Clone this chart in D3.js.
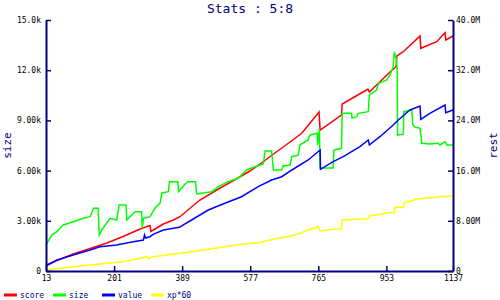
<!DOCTYPE html>
<head>
    <meta charset="utf-8">
    <title>Stats : 5:8</title>
    <style>
        body { margin: 0; background: #fff; }
        text { font-family: "DejaVu Sans Mono", monospace; }
        .axis text { font-size: 8px; fill: #000; }
        .axis path { stroke: #000080; stroke-width: 2; }
        .axis line { stroke: #000080; stroke-width: 1.5; }
        .label { font-size: 11px; fill: #000080; }
        .legend text { font-size: 8px; fill: #000080; }
    </style>
    <script src="https://cdn.jsdelivr.net/npm/d3@7"></script>
</head>
<body>
<script>
    // [iteration, value] pairs
    var scoreData = [[13,359],[88,1016],[135,1345],[181,1673],[226,2062],[273,2510],[300,2719],[303,2361],
        [314,2510],[337,2809],[365,3048],[383,3245],[438,4243],[494,4960],[543,5558],[576,5976],[612,6514],
        [645,7052],[687,7709],[720,8247],[767,9502],[770,8426],[829,9323],[831,9980],[898,10817],[902,10877],
        [906,10697],[963,11893],[980,12209],[982,12849],[999,13088],[1046,14044],[1048,13308],[1092,13703],
        [1115,14241],[1117,13805],[1137,14044]];

    var sizeData = [[13,1554],[29,2151],[43,2349],[52,2570],[61,2749],[88,2946],[116,3149],[135,3245],[144,3747],
        [157,3747],[160,2151],[167,2450],[190,3149],[208,3048],[215,3944],[234,3944],[236,3048],[259,3544],
        [277,3544],[279,2570],[282,3149],[300,3245],[314,3747],[328,4064],[333,4661],[351,4739],[354,5337],
        [377,5337],[379,4739],[397,5199],[406,5337],[426,5337],[429,4602],[471,4739],[489,5038],[516,5337],
        [544,5540],[567,6036],[590,6233],[613,6394],[618,7171],[636,7171],[641,6036],[664,6036],[668,6275],
        [687,6335],[692,6831],[710,6932],[714,7530],[737,7829],[742,8128],[762,8229],[763,7530],[768,8468],
        [770,6155],[806,6155],[808,7231],[829,7333],[831,9424],[857,9424],[858,9143],[871,9221],[875,9424],
        [903,9520],[906,10518],[926,10817],[931,11217],[954,11414],[963,11713],[972,12209],[975,13106],
        [980,12711],[983,12114],[984,8128],[1000,8188],[1001,9520],[1023,9622],[1026,8725],[1032,8606],
        [1046,8528],[1051,7631],[1073,7590],[1096,7631],[1101,7530],[1115,7727],[1120,7530],[1137,7530]];

    var valueData = [[13,299],[43,657],[88,956],[135,1255],[162,1452],[208,1554],[254,1751],[282,1853],
        [285,2151],[288,1972],[300,2050],[309,2193],[337,2450],[365,2552],[381,2611],[415,3048],[461,3645],
        [507,4046],[553,4440],[599,5038],[636,5438],[664,5635],[692,6036],[737,6634],[770,7231],[771,6078],
        [806,6532],[834,6831],[880,7428],[903,7829],[906,7530],[935,8026],[972,8725],[986,9024],[1018,9622],
        [1046,9860],[1048,9066],[1073,9424],[1115,9920],[1117,9460],[1137,9622]];

    var xpData = [[13,60],[52,161],[88,257],[135,359],[181,460],[226,556],[273,759],[291,855],[295,747],
        [309,855],[346,956],[383,1058],[415,1153],[461,1297],[507,1452],[553,1596],[599,1691],[645,1912],
        [692,2110],[719,2289],[737,2450],[765,2647],[770,2390],[806,2492],[829,2510],[831,3048],[903,3125],
        [908,3287],[935,3388],[958,3484],[975,3496],[977,3807],[1000,3807],[1002,4082],[1023,4183],
        [1032,4285],[1073,4380],[1115,4464],[1137,4482]];

    var xTicks = [13, 201, 389, 577, 765, 953, 1137];
    var leftTicks = [0, 3000, 6000, 9000, 12000, 15000];
    var leftLabels = ["0", "3.00k", "6.00k", "9.00k", "12.0k", "15.0k"];
    var rightTicks = [0, 8e6, 16e6, 24e6, 32e6, 40e6];
    var rightLabels = ["0", "8.00M", "16.0M", "24.0M", "32.0M", "40.0M"];

    var seriesNames = ["score", "size", "value", "xp*60"];
    var seriesColors = ["#ff0000", "#00ff00", "#0000ff", "#ffff00"];
    var seriesData = [scoreData, sizeData, valueData, xpData];

    var margin = { top: 20, right: 47, bottom: 29, left: 46 },
        width = 500 - margin.left - margin.right,
        height = 300 - margin.top - margin.bottom;

    var x = d3.scaleLinear().domain([13, 1137]).range([0, width]);
    var y = d3.scaleLinear().domain([0, 15000]).range([height, 0]);
    var y2 = d3.scaleLinear().domain([0, 40e6]).range([height, 0]);

    var svg = d3.select("body").append("svg")
        .attr("width", 500)
        .attr("height", 300);

    svg.append("text")
        .attr("class", "label")
        .attr("x", 250)
        .attr("y", 13)
        .attr("text-anchor", "middle")
        .style("font-size", "13px")
        .text("Stats : 5:8");

    svg.append("text")
        .attr("class", "label")
        .attr("transform", "translate(11," + (margin.top + height / 2) + ") rotate(-90)")
        .attr("text-anchor", "middle")
        .text("size");

    svg.append("text")
        .attr("class", "label")
        .attr("transform", "translate(497," + (margin.top + height / 2) + ") rotate(-90)")
        .attr("text-anchor", "middle")
        .text("rest");

    var plot = svg.append("g")
        .attr("transform", "translate(" + margin.left + "," + margin.top + ")");

    var line = d3.line()
        .x(function(d) { return x(d[0]); })
        .y(function(d) { return y(d[1]); });

    seriesData.forEach(function(data, i) {
        plot.append("path")
            .datum(data)
            .attr("fill", "none")
            .attr("stroke", seriesColors[i])
            .attr("stroke-width", 1.5)
            .attr("d", line);
    });

    plot.append("g")
        .attr("class", "axis")
        .attr("transform", "translate(0," + height + ")")
        .call(d3.axisBottom(x).tickValues(xTicks).tickFormat(d3.format("d"))
            .tickSizeInner(-5).tickSizeOuter(0).tickPadding(4));

    plot.append("g")
        .attr("class", "axis")
        .call(d3.axisLeft(y).tickValues(leftTicks)
            .tickFormat(function(d, i) { return leftLabels[i]; })
            .tickSizeInner(-5).tickSizeOuter(0).tickPadding(5));

    plot.append("g")
        .attr("class", "axis")
        .attr("transform", "translate(" + width + ",0)")
        .call(d3.axisRight(y2).tickValues(rightTicks)
            .tickFormat(function(d, i) { return rightLabels[i]; })
            .tickSizeInner(-5).tickSizeOuter(0).tickPadding(3));

    var legend = svg.append("g")
        .attr("class", "legend")
        .attr("transform", "translate(4,295)");

    var items = legend.selectAll("g")
        .data(seriesNames)
        .enter()
        .append("g")
        .attr("transform", function(d, i) { return "translate(" + (i * 49) + ",0)"; });

    items.append("rect")
        .attr("x", 0)
        .attr("y", -1.5)
        .attr("width", 13)
        .attr("height", 3)
        .attr("fill", function(d, i) { return seriesColors[i]; });

    items.append("text")
        .attr("x", 16)
        .attr("y", 3)
        .text(function(d) { return d; });
</script>
</body>
